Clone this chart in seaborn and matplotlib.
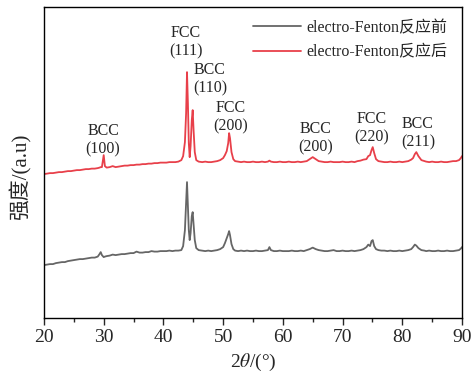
import numpy as np
import pandas as pd
import matplotlib
matplotlib.use("Agg")
import matplotlib.pyplot as plt
import seaborn as sns

# 2theta positions (deg)
two_theta = [
    20, 20.5, 21, 21.5, 22, 22.5, 23, 23.5, 24, 24.5, 25, 25.5, 26, 26.5, 27, 27.5, 28, 28.5, 29,
    29.3, 29.5, 29.7, 30.0, 30.2, 30.5, 31, 31.5, 32, 32.5,
    33, 33.5, 34, 34.5, 35, 35.5, 36, 36.5, 37, 37.5, 38, 38.5, 39, 39.5, 40, 40.5, 41, 41.5, 42, 42.5, 43,
    43.3, 43.6, 43.8, 43.95, 44.1, 44.25, 44.4, 44.55, 44.75, 44.9, 45.05, 45.25, 45.5, 45.9,
    46.5, 47, 47.5, 48, 48.5, 49, 49.5, 50, 50.3, 50.6, 50.85, 51.0, 51.15, 51.4, 51.7, 52, 52.5, 53,
    53.5, 54, 54.5, 55, 55.5, 56, 56.5, 57, 57.5, 57.75, 58, 58.5, 59, 59.5, 60, 60.5, 61, 61.5, 62, 62.5, 63, 63.5, 64,
    64.5, 65, 65.5, 66, 66.5, 67, 67.5, 68, 68.5, 69, 69.5, 70, 70.5, 71, 71.5, 72, 72.5, 73, 73.5,
    74, 74.3, 74.6, 74.85, 75.05, 75.3, 75.6, 76, 76.5, 77, 77.5, 78, 78.5, 79, 79.5, 80, 80.5, 81, 81.5,
    81.8, 82.1, 82.35, 82.7, 83.2, 83.7, 84, 84.5, 85, 85.5, 86, 86.5, 87, 87.5, 88, 88.5, 89, 89.5, 89.8, 90,
]

# intensity before reaction (a.u.)
before = [
    53, 53.5, 54, 54, 55, 55.5, 56, 56, 57, 57.5, 58, 58.5, 59, 59, 59.5, 60, 60.5, 60.5, 61.5,
    64, 66, 63, 61, 61.5, 62, 62.5, 63.5, 63, 63.5,
    64, 64, 64.5, 65, 65, 66.5, 65.5, 65.5, 66, 66, 67, 66.5, 66.5, 67, 67, 67, 67.5, 67, 67.5, 67.5, 68,
    72, 88, 115, 136, 112, 88, 78, 85, 102, 106, 94, 78, 70, 68,
    67.5, 67, 67.5, 67, 67.5, 68, 69, 71, 75, 80, 84, 87, 83, 74, 69, 67.5, 67, 67.5,
    67, 67.5, 67, 67, 67.5, 67, 67, 67.5, 68, 71, 68, 67, 67, 67.5, 67, 67, 67, 67.5, 67, 67, 67.5, 67, 68,
    69, 70.5, 69, 68, 67.5, 67, 67, 67.5, 68, 67, 67, 67.5, 67, 67, 67.5, 67, 67.5, 68, 69,
    71, 73.5, 72, 77, 78, 72, 69, 68, 67.5, 67.5, 67, 67.5, 67, 67, 67.5, 67, 67.5, 68, 69,
    71, 73.5, 72.5, 70, 68, 67.5, 67, 67.5, 67, 67, 67.5, 67, 67, 67.5, 67, 67, 67.5, 68, 69.5, 71,
]

# intensity after reaction (a.u., offset)
after = [
    144, 144.5, 145, 145, 145.5, 146, 146, 146.5, 147, 147, 147.5, 148, 148, 148.5, 149, 149, 149.5, 149.5, 150,
    150.5, 151, 151, 163, 152, 150.5, 151, 152, 151, 151.5,
    152, 152.5, 152.5, 153, 153, 153.5, 153.5, 154, 154, 154.5, 154.5, 155, 155, 155.5, 155.5, 155.5, 156, 156, 156, 156.5, 158,
    162, 176, 205, 246, 215, 175, 161, 172, 198, 208, 188, 166, 158, 156.5,
    156, 156.5, 156, 156, 156.5, 157, 158, 160, 163, 167, 175, 185, 180, 166, 159, 157, 156.5, 156,
    156.5, 156, 156, 156.5, 156, 156, 156.5, 156, 156.5, 157.5, 156.5, 156, 156, 156.5, 156, 156, 156.5, 156, 156, 156.5, 156, 156.5, 157,
    159, 161, 159, 157, 156.5, 156, 156, 156.5, 156, 156, 156, 156.5, 156, 156, 156.5, 156, 157, 157.5, 158.5,
    159, 162, 163, 168, 171, 165, 159, 157, 156.5, 156, 156, 156.5, 156, 156, 156.5, 156, 156.5, 157, 158.5,
    160, 164, 166, 162, 158, 157, 156.5, 156, 156.5, 156, 156, 156.5, 156, 156, 156.5, 157, 157, 158, 160, 162,
]

series_names = ["electro-Fenton反应前", "electro-Fenton反应后"]

peak_labels = ["BCC\n(100)", "FCC\n(111)", "BCC\n(110)", "FCC\n(200)", "BCC\n(200)", "FCC\n(220)", "BCC\n(211)"]
peak_label_x = [29.9, 43.75, 47.8, 51.3, 65.5, 74.9, 82.6]
peak_label_y = [178, 276, 238.5, 201, 179.5, 189.5, 185]

df = pd.concat([
    pd.DataFrame({"2theta": two_theta, "intensity": before, "sample": series_names[0]}),
    pd.DataFrame({"2theta": two_theta, "intensity": after, "sample": series_names[1]}),
])

sns.set_style("ticks")
plt.rcParams["font.family"] = ["Liberation Serif", "Noto Sans CJK SC"]
plt.rcParams["mathtext.fontset"] = "stix"

fig = plt.figure(figsize=(4.76, 3.76), dpi=100)
ax = fig.add_axes([0.0924, 0.154, 0.8782, 0.827])

sns.lineplot(data=df, x="2theta", y="intensity", hue="sample",
             palette=["#666666", "#e8404a"], linewidth=1.3, ax=ax)

for txt, x, y in zip(peak_labels, peak_label_x, peak_label_y):
    ax.text(x, y, txt, ha="center", va="center", fontsize=11.5, linespacing=1.2)

ax.set_xlim(20, 90)
ax.set_ylim(0, 311)
ax.set_xticks(range(20, 91, 10))
ax.set_xticks(range(25, 90, 10), minor=True)
ax.set_yticks([])
ax.tick_params(axis="x", which="major", direction="out", length=5, width=1, labelsize=14, pad=3)
ax.tick_params(axis="x", which="minor", direction="out", length=3, width=1)
for sp in ax.spines.values():
    sp.set_visible(True)
    sp.set_color("black")
    sp.set_linewidth(1)

ax.set_xlabel(r"2$\theta$/(°)", fontsize=14, labelpad=4)
ax.set_ylabel("强度/(a.u)", fontsize=15)
ax.yaxis.set_label_coords(-0.03, 0.453)

ax.legend(loc="upper left", bbox_to_anchor=(0.465, 1.005), frameon=False,
          fontsize=11.5, handlelength=3.0, handletextpad=0.35, labelspacing=0.55)

fig.savefig("out.png", dpi=100)
